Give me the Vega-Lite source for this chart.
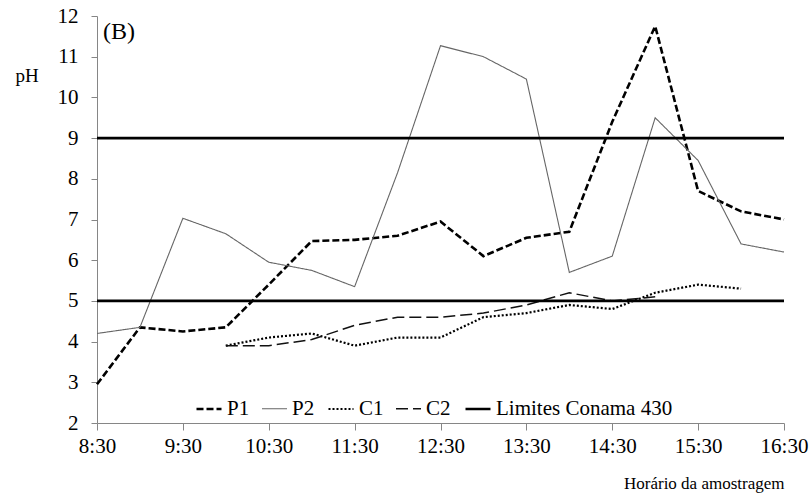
{
  "$schema": "https://vega.github.io/schema/vega-lite/v6.json",
  "width": 687,
  "height": 407,
  "autosize": {"type": "none"},
  "padding": {"left": 97, "top": 16, "right": 27, "bottom": 71},
  "background": "white",
  "config": {
    "view": {"stroke": null},
    "font": "Liberation Serif",
    "axis": {
      "grid": false,
      "domainColor": "#868686",
      "tickColor": "#868686",
      "labelColor": "#000000",
      "labelFont": "Liberation Serif",
      "labelFontSize": 20,
      "titleFont": "Liberation Serif",
      "titleFontWeight": "normal",
      "titleColor": "#000000"
    },
    "legend": {
      "labelFont": "Liberation Serif",
      "labelFontSize": 20,
      "labelColor": "#000000",
      "labelLimit": 400
    }
  },
  "datasets": {
    "medicoes": [
      {"serie": "P1", "hora": "08:30", "pH": 2.95},
      {"serie": "P1", "hora": "09:00", "pH": 4.35},
      {"serie": "P1", "hora": "09:30", "pH": 4.25},
      {"serie": "P1", "hora": "10:00", "pH": 4.35},
      {"serie": "P1", "hora": "10:30", "pH": 5.4},
      {"serie": "P1", "hora": "11:00", "pH": 6.47},
      {"serie": "P1", "hora": "11:30", "pH": 6.5},
      {"serie": "P1", "hora": "12:00", "pH": 6.6},
      {"serie": "P1", "hora": "12:30", "pH": 6.95},
      {"serie": "P1", "hora": "13:00", "pH": 6.1},
      {"serie": "P1", "hora": "13:30", "pH": 6.55},
      {"serie": "P1", "hora": "14:00", "pH": 6.7},
      {"serie": "P1", "hora": "14:30", "pH": 9.4},
      {"serie": "P1", "hora": "15:00", "pH": 11.75},
      {"serie": "P1", "hora": "15:30", "pH": 7.7},
      {"serie": "P1", "hora": "16:00", "pH": 7.2},
      {"serie": "P1", "hora": "16:30", "pH": 7.0},
      {"serie": "P2", "hora": "08:30", "pH": 4.2},
      {"serie": "P2", "hora": "09:00", "pH": 4.35},
      {"serie": "P2", "hora": "09:30", "pH": 7.03},
      {"serie": "P2", "hora": "10:00", "pH": 6.65},
      {"serie": "P2", "hora": "10:30", "pH": 5.95},
      {"serie": "P2", "hora": "11:00", "pH": 5.75},
      {"serie": "P2", "hora": "11:30", "pH": 5.35},
      {"serie": "P2", "hora": "12:00", "pH": 8.15},
      {"serie": "P2", "hora": "12:30", "pH": 11.27},
      {"serie": "P2", "hora": "13:00", "pH": 11.0},
      {"serie": "P2", "hora": "13:30", "pH": 10.45},
      {"serie": "P2", "hora": "14:00", "pH": 5.7},
      {"serie": "P2", "hora": "14:30", "pH": 6.1},
      {"serie": "P2", "hora": "15:00", "pH": 9.5},
      {"serie": "P2", "hora": "15:30", "pH": 8.45},
      {"serie": "P2", "hora": "16:00", "pH": 6.4},
      {"serie": "P2", "hora": "16:30", "pH": 6.2},
      {"serie": "C1", "hora": "10:00", "pH": 3.9},
      {"serie": "C1", "hora": "10:30", "pH": 4.1},
      {"serie": "C1", "hora": "11:00", "pH": 4.2},
      {"serie": "C1", "hora": "11:30", "pH": 3.9},
      {"serie": "C1", "hora": "12:00", "pH": 4.1},
      {"serie": "C1", "hora": "12:30", "pH": 4.1},
      {"serie": "C1", "hora": "13:00", "pH": 4.6},
      {"serie": "C1", "hora": "13:30", "pH": 4.7},
      {"serie": "C1", "hora": "14:00", "pH": 4.9},
      {"serie": "C1", "hora": "14:30", "pH": 4.8},
      {"serie": "C1", "hora": "15:00", "pH": 5.2},
      {"serie": "C1", "hora": "15:30", "pH": 5.4},
      {"serie": "C1", "hora": "16:00", "pH": 5.3},
      {"serie": "C2", "hora": "10:00", "pH": 3.9},
      {"serie": "C2", "hora": "10:30", "pH": 3.9},
      {"serie": "C2", "hora": "11:00", "pH": 4.05},
      {"serie": "C2", "hora": "11:30", "pH": 4.4},
      {"serie": "C2", "hora": "12:00", "pH": 4.6},
      {"serie": "C2", "hora": "12:30", "pH": 4.6},
      {"serie": "C2", "hora": "13:00", "pH": 4.7},
      {"serie": "C2", "hora": "13:30", "pH": 4.9},
      {"serie": "C2", "hora": "14:00", "pH": 5.2},
      {"serie": "C2", "hora": "14:30", "pH": 5.0},
      {"serie": "C2", "hora": "15:00", "pH": 5.1},
      {"serie": "Limites Conama 430", "faixa": "superior", "hora": "08:30", "pH": 9},
      {"serie": "Limites Conama 430", "faixa": "superior", "hora": "16:30", "pH": 9},
      {"serie": "Limites Conama 430", "faixa": "inferior", "hora": "08:30", "pH": 5},
      {"serie": "Limites Conama 430", "faixa": "inferior", "hora": "16:30", "pH": 5}
    ],
    "painel": [
      {"rotulo": "(B)", "hora": "08:30", "pH": 11.61}
    ]
  },
  "layer": [
    {
      "data": {"name": "medicoes", "format": {"parse": {"hora": "utc:'%H:%M'"}}},
      "mark": {"type": "line", "strokeCap": "butt", "strokeJoin": "miter"},
      "encoding": {
        "x": {
          "field": "hora",
          "type": "temporal",
          "scale": {
            "type": "utc",
            "domain": [
              {"year": 1900, "month": 1, "date": 1, "hours": 8, "minutes": 30, "utc": true},
              {"year": 1900, "month": 1, "date": 1, "hours": 16, "minutes": 30, "utc": true}
            ]
          },
          "axis": {
            "title": "Horário da amostragem",
            "titleFont": "Liberation Serif",
            "titleFontSize": 17,
            "titleAnchor": "end",
            "titleAlign": "right",
            "titleBaseline": "middle",
            "titleY": 60,
            "labelFont": "Liberation Serif",
            "labelFontSize": 21,
            "labelExpr": "utcFormat(datum.value, '%-H:%M')",
            "values": [
              {"year": 1900, "month": 1, "date": 1, "hours": 8, "minutes": 30, "utc": true},
              {"year": 1900, "month": 1, "date": 1, "hours": 9, "minutes": 30, "utc": true},
              {"year": 1900, "month": 1, "date": 1, "hours": 10, "minutes": 30, "utc": true},
              {"year": 1900, "month": 1, "date": 1, "hours": 11, "minutes": 30, "utc": true},
              {"year": 1900, "month": 1, "date": 1, "hours": 12, "minutes": 30, "utc": true},
              {"year": 1900, "month": 1, "date": 1, "hours": 13, "minutes": 30, "utc": true},
              {"year": 1900, "month": 1, "date": 1, "hours": 14, "minutes": 30, "utc": true},
              {"year": 1900, "month": 1, "date": 1, "hours": 15, "minutes": 30, "utc": true},
              {"year": 1900, "month": 1, "date": 1, "hours": 16, "minutes": 30, "utc": true}
            ],
            "tickSize": 7,
            "labelPadding": 5,
            "labelFlush": false,
            "labelOverlap": false
          }
        },
        "y": {
          "field": "pH",
          "type": "quantitative",
          "scale": {"domain": [2, 12], "nice": false, "zero": false},
          "axis": {
            "title": "pH",
            "titleFont": "Liberation Serif",
            "titleAngle": 0,
            "titleFontSize": 19,
            "titleAlign": "left",
            "titleBaseline": "middle",
            "titleX": -82,
            "titleY": 59,
            "labelFont": "Liberation Serif",
            "labelFontSize": 21,
            "values": [2, 3, 4, 5, 6, 7, 8, 9, 10, 11, 12],
            "tickSize": 6,
            "labelPadding": 13
          }
        },
        "detail": {"field": "faixa", "type": "nominal"},
        "color": {
          "field": "serie",
          "type": "nominal",
          "scale": {
            "type": "ordinal",
            "domain": ["P1", "P2", "C1", "C2", "Limites Conama 430"],
            "range": ["#000000", "#666666", "#000000", "#111111", "#000000"]
          },
          "legend": {
            "title": null,
            "orient": "none",
            "direction": "horizontal",
            "legendX": 98,
            "legendY": 379,
            "symbolType": "stroke",
            "symbolSize": 625,
            "labelOffset": 4,
            "labelFont": "Liberation Serif",
            "labelFontSize": 21,
            "labelLimit": 400,
            "columnPadding": 9,
            "padding": 0
          }
        },
        "strokeDash": {
          "field": "serie",
          "type": "nominal",
          "scale": {
            "type": "ordinal",
            "domain": ["P1", "P2", "C1", "C2", "Limites Conama 430"],
            "range": [[7, 3], [1, 0], [2, 2], [12, 5], [1, 0]]
          },
          "legend": {
            "title": null,
            "orient": "none",
            "direction": "horizontal",
            "legendX": 98,
            "legendY": 379,
            "symbolType": "stroke",
            "symbolSize": 625,
            "labelOffset": 4,
            "labelFont": "Liberation Serif",
            "labelFontSize": 21,
            "labelLimit": 400,
            "columnPadding": 9,
            "padding": 0
          }
        },
        "strokeWidth": {
          "field": "serie",
          "type": "nominal",
          "scale": {
            "type": "ordinal",
            "domain": ["P1", "P2", "C1", "C2", "Limites Conama 430"],
            "range": [2.6, 1.1, 2.2, 1.5, 2.6]
          },
          "legend": {
            "title": null,
            "orient": "none",
            "direction": "horizontal",
            "legendX": 98,
            "legendY": 379,
            "symbolType": "stroke",
            "symbolSize": 625,
            "labelOffset": 4,
            "labelFont": "Liberation Serif",
            "labelFontSize": 21,
            "labelLimit": 400,
            "columnPadding": 9,
            "padding": 0
          }
        }
      }
    },
    {
      "data": {"name": "painel", "format": {"parse": {"hora": "utc:'%H:%M'"}}},
      "mark": {"type": "text", "align": "left", "baseline": "middle", "dx": 6, "font": "Liberation Serif", "fontSize": 24, "color": "#000000"},
      "encoding": {
        "x": {"field": "hora", "type": "temporal"},
        "y": {"field": "pH", "type": "quantitative"},
        "text": {"field": "rotulo"}
      }
    }
  ]
}
